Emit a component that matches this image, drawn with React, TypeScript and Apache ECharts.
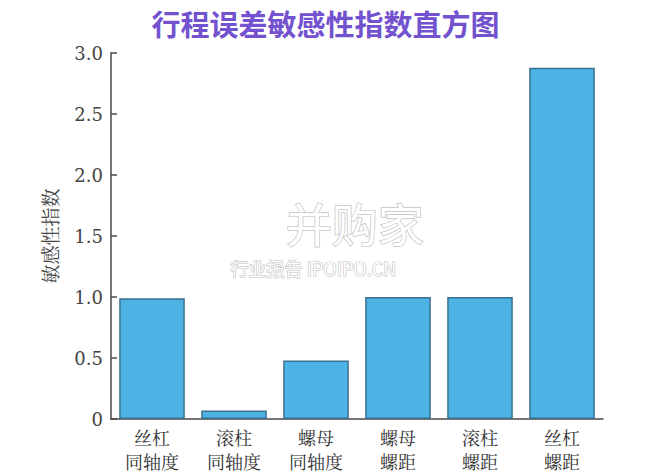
import React, { useEffect, useRef } from "react";
import * as echarts from "echarts";

const categories = ["丝杠\n同轴度", "滚柱\n同轴度", "螺母\n同轴度", "螺母\n螺距", "滚柱\n螺距", "丝杠\n螺距"];
const values = [0.99, 0.07, 0.48, 1.0, 1.0, 2.88];
const yTicks = [0, 0.5, 1.0, 1.5, 2.0, 2.5, 3.0];

export default function App() {
  const ref = useRef<HTMLDivElement>(null);
  useEffect(() => {
    if (!ref.current) return;
    const chart = echarts.init(ref.current, null, { renderer: "svg" });
    chart.setOption({
      animation: false,
      backgroundColor: "#ffffff",
      title: {
        text: "行程误差敏感性指数直方图",
        left: "center",
        top: 8,
        padding: 0,
        textStyle: {
          color: "#7352cf",
          fontSize: 29,
          fontWeight: "bold",
          fontFamily: "Noto Sans CJK SC",
        },
      },
      grid: { left: 111, right: 48, top: 53, bottom: 57 },
      xAxis: {
        type: "category",
        data: categories,
        axisLine: { lineStyle: { color: "#4a4a4a", width: 1.5 } },
        axisTick: { inside: true, length: 6, lineStyle: { color: "#4a4a4a", width: 1.5 } },
        axisLabel: {
          color: "#333",
          fontSize: 18,
          lineHeight: 24,
          margin: 6,
          fontFamily: "Noto Serif CJK SC, DejaVu Serif, serif",
        },
      },
      yAxis: {
        type: "value",
        min: 0,
        max: 3,
        interval: 0.5,
        name: "敏感性指数",
        nameLocation: "middle",
        nameGap: 52,
        nameTextStyle: {
          color: "#444",
          fontSize: 19,
          fontFamily: "Noto Serif CJK SC, DejaVu Serif, serif",
        },
        axisLine: { show: true, lineStyle: { color: "#4a4a4a", width: 1.5 } },
        axisTick: { show: true, inside: true, length: 6, lineStyle: { color: "#4a4a4a", width: 1.5 } },
        splitLine: { show: false },
        axisLabel: {
          color: "#444",
          fontSize: 18,
          margin: 8,
          fontFamily: "DejaVu Serif, Liberation Serif, serif",
          formatter: (v: number) => {
            const t = yTicks.find((x) => Math.abs(x - v) < 1e-9);
            if (t === undefined) return "";
            return t === 0 ? "0" : t.toFixed(1);
          },
        },
      },
      series: [
        {
          type: "bar",
          data: values,
          barCategoryGap: "20%",
          itemStyle: { color: "#4db2e4", borderColor: "#3b6f8f", borderWidth: 1.5 },
        },
      ],
      graphic: [
        {
          type: "text",
          left: 285,
          top: 198,
          silent: true,
          style: {
            text: "并购家",
            fontSize: 46,
            fontFamily: "Noto Sans CJK SC",
            fill: "#ffffff",
            stroke: "#c4c4c4",
            lineWidth: 1.5,
          },
        },
        {
          type: "text",
          left: 230,
          top: 258,
          silent: true,
          style: {
            text: "行业报告 IPOIPO.CN",
            fontSize: 18,
            fontFamily: "Noto Sans CJK SC",
            fill: "#ffffff",
            stroke: "#c0c0c0",
            lineWidth: 1.2,
          },
        },
      ],
    });
    return () => chart.dispose();
  }, []);
  return (
    <div
      ref={ref}
      style={{ position: "absolute", left: 0, top: 0, width: 651, height: 476 }}
    />
  );
}
